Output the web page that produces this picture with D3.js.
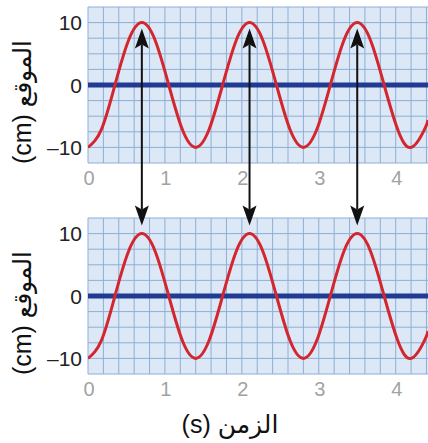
<!DOCTYPE html>
<html>
<head>
<meta charset="utf-8">
<script src="https://cdn.jsdelivr.net/npm/d3@7"></script>
<style>
  body { margin: 0; background: #fff; }
  svg { display: block; }
</style>
</head>
<body>
<script>
// values
var timeTicks = [0, 1, 2, 3, 4];
var posTicks = [-10, 0, 10];
var sampleTimes = [0, 0.175, 0.35, 0.525, 0.7, 0.875, 1.05, 1.225, 1.4, 1.575, 1.75, 1.925, 2.1,
  2.275, 2.45, 2.625, 2.8, 2.975, 3.15, 3.325, 3.5, 3.675, 3.85, 4.025, 4.2, 4.375, 4.42];
var positions = [-10, -7.1, 0, 7.1, 10, 7.1, 0, -7.1, -10, -7.1, 0, 7.1, 10,
  7.1, 0, -7.1, -10, -7.1, 0, 7.1, 10, 7.1, 0, -7.1, -10, -7.1, -5.6];
var peakTimes = [0.7, 2.1, 3.5];
var xLabel = "الزمن (s)";
var yLabel = "الموقع (cm)";

var width = 428, height = 443;

var svg = d3.select("body").append("svg")
  .attr("width", width)
  .attr("height", height);

var defs = svg.append("defs");
defs.append("clipPath").attr("id", "clipTop").append("rect")
  .attr("x", 88).attr("y", 7).attr("width", 340).attr("height", 156);
defs.append("clipPath").attr("id", "clipBot").append("rect")
  .attr("x", 88).attr("y", 218).attr("width", 340).attr("height", 156);

var x = d3.scaleLinear().domain([0, 4.42]).range([88, 428]);

var panels = [
  { y: d3.scaleLinear().domain([-12.5, 12.5]).range([163, 7]), clip: "clipTop", tickY: 178 },
  { y: d3.scaleLinear().domain([-12.5, 12.5]).range([374, 218]), clip: "clipBot", tickY: 389 }
];

var data = sampleTimes.map(function(t, i) { return { t: t, p: positions[i] }; });

panels.forEach(function(pn) {
  var g = svg.append("g");
  var y = pn.y;

  // background
  g.append("rect")
    .attr("x", x(0)).attr("y", y(12.5))
    .attr("width", x(4.42) - x(0)).attr("height", y(-12.5) - y(12.5))
    .attr("fill", "#dce8f6");

  // grid
  var gx = d3.range(0, 4.42, 0.2);
  var gy = d3.range(-12.5, 12.6, 2.5);
  g.selectAll(".vg").data(gx).enter().append("line")
    .attr("x1", function(d) { return x(d); }).attr("x2", function(d) { return x(d); })
    .attr("y1", y(12.5)).attr("y2", y(-12.5))
    .attr("stroke", "#8eaed6").attr("stroke-width", 1);
  g.selectAll(".hg").data(gy).enter().append("line")
    .attr("x1", x(0)).attr("x2", x(4.42))
    .attr("y1", function(d) { return y(d); }).attr("y2", function(d) { return y(d); })
    .attr("stroke", "#8eaed6").attr("stroke-width", 1);

  // zero line
  g.append("line")
    .attr("x1", x(0)).attr("x2", x(4.42))
    .attr("y1", y(0)).attr("y2", y(0))
    .attr("stroke", "#1f3b94").attr("stroke-width", 5);

  // curve
  var line = d3.line()
    .x(function(d) { return x(d.t); })
    .y(function(d) { return y(d.p); })
    .curve(d3.curveNatural);
  g.append("path")
    .datum(data)
    .attr("clip-path", "url(#" + pn.clip + ")")
    .attr("d", line)
    .attr("fill", "none")
    .attr("stroke", "#d3262e")
    .attr("stroke-width", 3);

  // y ticks
  g.selectAll(".yt").data(posTicks).enter().append("text")
    .attr("x", 82).attr("y", function(d) { return y(d); })
    .attr("dy", "0.36em")
    .attr("text-anchor", "end")
    .attr("font-family", "Liberation Sans, Arial, sans-serif")
    .attr("font-size", 21)
    .attr("fill", "#222")
    .text(function(d) { return d < 0 ? "\u2013" + Math.abs(d) : d; });

  // x ticks
  g.selectAll(".xt").data(timeTicks).enter().append("text")
    .attr("x", function(d) { return x(d) + 1; }).attr("y", pn.tickY)
    .attr("dy", "0.36em")
    .attr("text-anchor", "middle")
    .attr("font-family", "Liberation Sans, Arial, sans-serif")
    .attr("font-size", 20)
    .attr("fill", "#a3a3a3")
    .text(function(d) { return d; });

  // y label
  g.append("text")
    .attr("transform", "translate(22," + (y(0) + 17) + ") rotate(-90)")
    .attr("text-anchor", "middle")
    .attr("dy", "0.36em")
    .attr("direction", "rtl")
    .attr("font-family", "Liberation Sans, DejaVu Sans, sans-serif")
    .attr("font-size", 25)
    .attr("fill", "#111")
    .text(yLabel);
});

// x label
svg.append("text")
  .attr("x", 230).attr("y", 424)
  .attr("dy", "0.36em")
  .attr("text-anchor", "middle")
  .attr("direction", "rtl")
  .attr("font-family", "Liberation Sans, DejaVu Sans, sans-serif")
  .attr("font-size", 25)
  .attr("fill", "#111")
  .text(xLabel);

// arrows between the peaks
var yTop = panels[0].y, yBot = panels[1].y;
var arrows = svg.append("g");
peakTimes.forEach(function(t) {
  var cx = x(t);
  var top = yTop(10) + 6, bot = yBot(10) - 8;
  arrows.append("line")
    .attr("x1", cx).attr("x2", cx)
    .attr("y1", top + 16).attr("y2", bot - 16)
    .attr("stroke", "#111").attr("stroke-width", 2);
  arrows.append("path")
    .attr("d", "M" + cx + "," + top + "L" + (cx + 7) + "," + (top + 20) + "L" + cx + "," + (top + 16) + "L" + (cx - 7) + "," + (top + 20) + "Z")
    .attr("fill", "#111");
  arrows.append("path")
    .attr("d", "M" + cx + "," + bot + "L" + (cx + 7) + "," + (bot - 20) + "L" + cx + "," + (bot - 16) + "L" + (cx - 7) + "," + (bot - 20) + "Z")
    .attr("fill", "#111");
});
</script>
</body>
</html>
